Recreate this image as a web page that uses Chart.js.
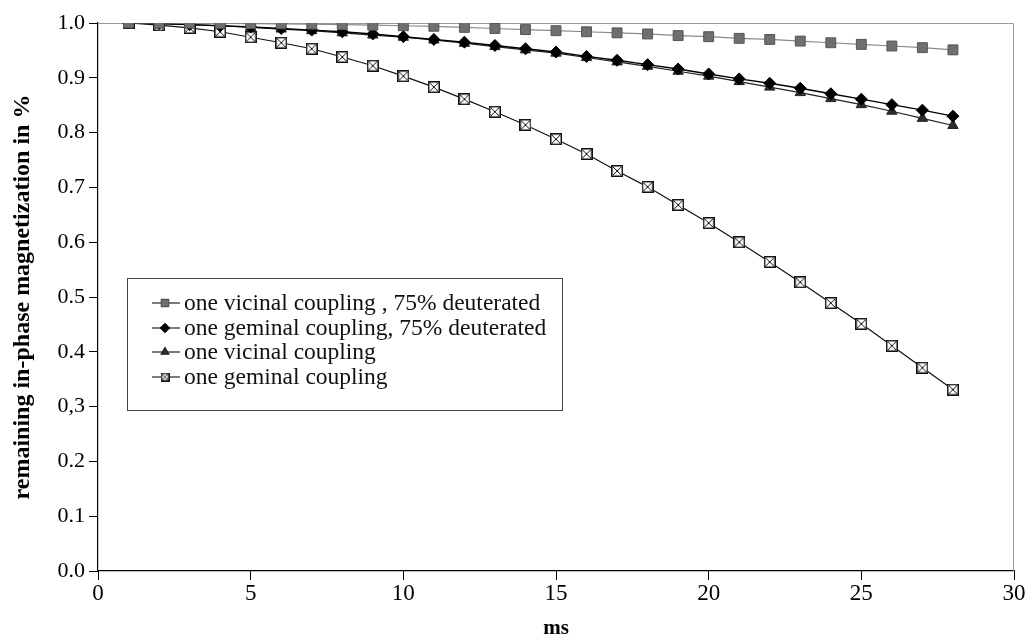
<!DOCTYPE html>
<html>
<head>
<meta charset="utf-8">
<script src="https://cdn.jsdelivr.net/npm/chart.js@4.4.1/dist/chart.umd.min.js"></script>
<style>
  html, body { margin: 0; padding: 0; background: #fff; }
  #wrap { width: 1029px; height: 641px; }
</style>
</head>
<body>
<div id="wrap"><canvas id="myChart" width="1029" height="641"></canvas></div>
<script>
// time in ms
var ms = [1,2,3,4,5,6,7,8,9,10,11,12,13,14,15,16,17,18,19,20,21,22,23,24,25,26,27,28];

// series
var vicinalDeut = [1.000,1.000,0.9997,0.9994,0.999,0.9985,0.998,0.997,0.996,0.995,0.994,0.992,0.990,0.988,0.986,0.984,0.982,0.980,0.977,0.975,0.972,0.970,0.967,0.964,0.961,0.958,0.955,0.951];
var geminalDeut = [1.000,0.999,0.997,0.995,0.993,0.990,0.987,0.984,0.980,0.975,0.970,0.965,0.959,0.953,0.947,0.939,0.932,0.924,0.916,0.907,0.898,0.890,0.881,0.871,0.861,0.851,0.841,0.830];
var vicinal = [1.000,0.999,0.997,0.995,0.992,0.989,0.986,0.982,0.978,0.974,0.969,0.963,0.957,0.951,0.945,0.937,0.929,0.921,0.912,0.903,0.893,0.883,0.873,0.862,0.851,0.839,0.826,0.813];
var geminal = [1.000,0.996,0.991,0.984,0.974,0.964,0.953,0.938,0.922,0.903,0.883,0.861,0.838,0.814,0.788,0.761,0.730,0.701,0.668,0.635,0.600,0.564,0.527,0.489,0.451,0.411,0.371,0.331];

var seriesNames = ['one vicinal coupling , 75% deuterated', 'one geminal coupling, 75% deuterated', 'one vicinal coupling', 'one geminal coupling'];

// y tick labels as printed (note the "0,3")
var yTickLabels = ['0.0','0.1','0.2','0,3','0.4','0.5','0.6','0.7','0.8','0.9','1.0'];
var xTicks = [0,5,10,15,20,25,30];

var serif = "'Liberation Serif', 'Times New Roman', serif";

function pts(ys) {
  return ys.map(function(y, i) { return {x: ms[i], y: y}; });
}

// square with an X inside, for the geminal series
function crossBox(size) {
  var c = document.createElement('canvas');
  c.width = size; c.height = size;
  var g = c.getContext('2d');
  g.fillStyle = '#fff';
  g.fillRect(0, 0, size, size);
  g.strokeStyle = '#111';
  g.lineWidth = 1.5;
  g.strokeRect(0.75, 0.75, size - 1.5, size - 1.5);
  g.lineWidth = 1;
  g.beginPath();
  g.moveTo(2, 2); g.lineTo(size - 2, size - 2);
  g.moveTo(size - 2, 2); g.lineTo(2, size - 2);
  g.stroke();
  return c;
}
var boxBig = crossBox(12);
var boxSmall = crossBox(9);

// legend drawn inside the plot, as in the original
var boxLegend = {
  id: 'boxLegend',
  afterDraw: function(chart) {
    var ctx = chart.ctx;
    var left = 127, top = 278, right = 562, bottom = 410;
    ctx.save();
    ctx.fillStyle = '#fff';
    ctx.fillRect(left, top, right - left, bottom - top);
    ctx.strokeStyle = '#444';
    ctx.lineWidth = 1;
    ctx.strokeRect(left + 0.5, top + 0.5, right - left, bottom - top);
    var rows = [303, 328, 352, 377];
    ctx.font = '23.5px ' + serif;
    ctx.textBaseline = 'middle';
    chart.data.datasets.forEach(function(ds, i) {
      var y = rows[i];
      ctx.strokeStyle = '#222';
      ctx.lineWidth = 1.2;
      ctx.beginPath();
      ctx.moveTo(152, y); ctx.lineTo(180, y);
      ctx.stroke();
      if (i == 3) {
        ctx.drawImage(boxSmall, 165 - 4.5, y - 4.5);
      } else {
        ctx.fillStyle = ds.pointBackgroundColor;
        ctx.strokeStyle = ds.pointBorderColor;
        Chart.helpers.drawPoint(ctx, {pointStyle: ds.pointStyle, radius: ds.pointRadius * 0.75, borderWidth: 1}, 165, y);
      }
      ctx.fillStyle = '#111';
      ctx.fillText(ds.label, 184, y + 1);
    });
    ctx.restore();
  }
};

// light frame on top and right of the plot
var frame = {
  id: 'frame',
  beforeDatasetsDraw: function(chart) {
    var a = chart.chartArea, ctx = chart.ctx;
    ctx.save();
    ctx.strokeStyle = '#999';
    ctx.lineWidth = 1;
    ctx.beginPath();
    ctx.moveTo(a.left, a.top + 0.5);
    ctx.lineTo(a.right - 0.5, a.top + 0.5);
    ctx.lineTo(a.right - 0.5, a.bottom);
    ctx.stroke();
    ctx.restore();
  }
};

var ctx = document.getElementById('myChart');
var myChart = new Chart(ctx, {
  type: 'line',
  data: {
    datasets: [
      {
        label: seriesNames[0],
        data: pts(vicinalDeut),
        borderColor: '#8a8a8a',
        borderWidth: 1.2,
        pointStyle: 'rect',
        pointRadius: 7,
        pointBackgroundColor: '#6f6f6f',
        pointBorderColor: '#555',
        pointBorderWidth: 1,
        fill: false
      },
      {
        label: seriesNames[1],
        data: pts(geminalDeut),
        borderColor: '#000',
        borderWidth: 1.4,
        pointStyle: 'rectRot',
        pointRadius: 6,
        pointBackgroundColor: '#000',
        pointBorderColor: '#000',
        pointBorderWidth: 1,
        fill: false
      },
      {
        label: seriesNames[2],
        data: pts(vicinal),
        borderColor: '#222',
        borderWidth: 1.2,
        pointStyle: 'triangle',
        pointRadius: 6,
        pointBackgroundColor: '#2e2e2e',
        pointBorderColor: '#222',
        pointBorderWidth: 1,
        fill: false
      },
      {
        label: seriesNames[3],
        data: pts(geminal),
        borderColor: '#111',
        borderWidth: 1.2,
        pointStyle: boxBig,
        pointRadius: 6,
        pointBackgroundColor: '#fff',
        pointBorderColor: '#111',
        fill: false
      }
    ]
  },
  options: {
    responsive: false,
    animation: false,
    layout: { padding: { top: 23, right: 15, left: 0, bottom: 0 } },
    plugins: {
      legend: { display: false },
      tooltip: { enabled: false }
    },
    scales: {
      x: {
        type: 'linear',
        min: 0,
        max: 30,
        afterFit: function(s) { s.height = 70; },
        afterBuildTicks: function(s) { s.ticks = xTicks.map(function(v) { return {value: v}; }); },
        grid: { drawOnChartArea: false, drawTicks: true, tickLength: 9, color: '#000' },
        border: { display: true, color: '#000', width: 1.2 },
        ticks: {
          color: '#000',
          padding: 0,
          maxRotation: 0,
          font: { family: serif, size: 23 }
        },
        title: {
          display: true,
          text: 'ms',
          color: '#000',
          padding: { top: 0, bottom: 0 },
          font: { family: serif, size: 21, weight: 'bold' }
        }
      },
      y: {
        type: 'linear',
        min: 0,
        max: 1,
        afterFit: function(s) { s.width = 98; },
        ticks: {
          stepSize: 0.1,
          color: '#000',
          padding: 4,
          font: { family: serif, size: 22 },
          callback: function(v) { return yTickLabels[Math.round(v * 10)]; }
        },
        grid: { drawOnChartArea: false, drawTicks: true, tickLength: 9, color: '#000' },
        border: { display: true, color: '#000', width: 1.2 },
        title: {
          display: true,
          text: 'remaining in-phase magnetization in %',
          color: '#000',
          padding: { top: 8, bottom: 0 },
          font: { family: serif, size: 24, weight: 'bold' }
        }
      }
    }
  },
  plugins: [frame, boxLegend]
});
</script>
</body>
</html>
